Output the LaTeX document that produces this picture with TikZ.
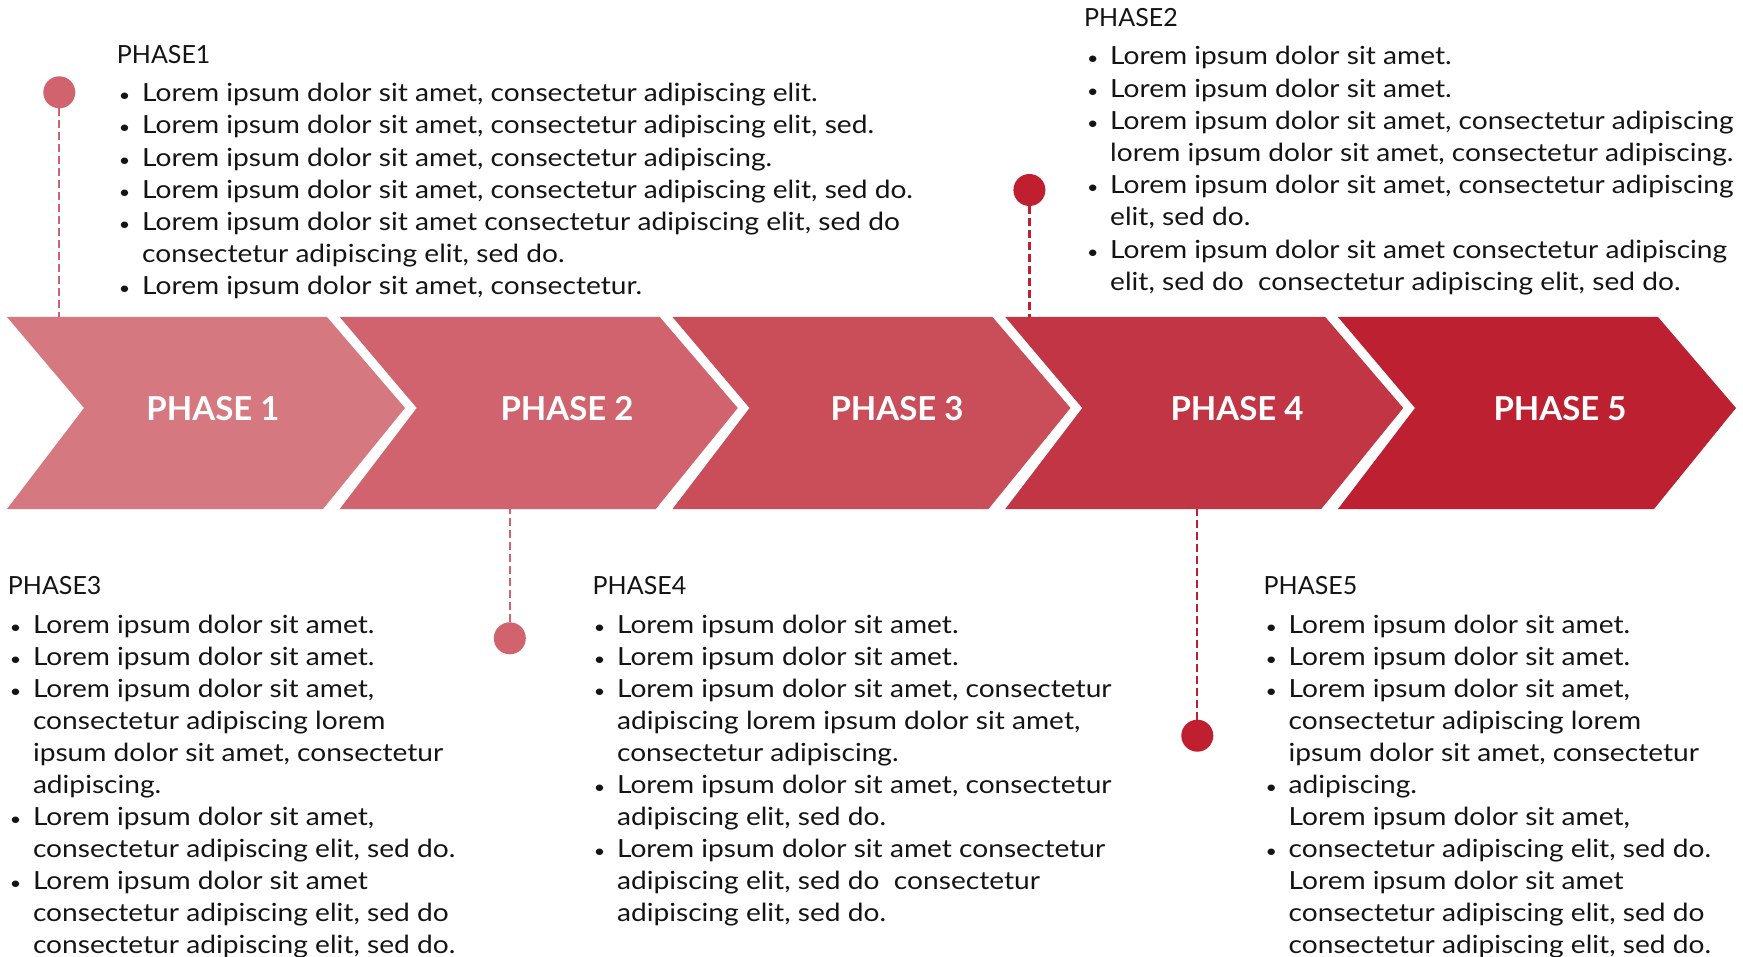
\documentclass[tikz,border=0pt]{standalone}
\usepackage{fontspec}
\setmainfont{Lato}
\newfontfamily\bodyfnt{Lato}[FakeStretch=1.125]
\definecolor{chA}{HTML}{D6787F}
\definecolor{chB}{HTML}{D0636D}
\definecolor{chC}{HTML}{C94E59}
\definecolor{chD}{HTML}{C23544}
\definecolor{chE}{HTML}{BC2031}
\definecolor{dotdark}{HTML}{BF1F2F}
\definecolor{txt}{HTML}{141414}
\newcommand\phbul{\makebox[0pt]{\scalebox{0.7}{•}}\hspace{17.5pt}}
\newcommand\phind{\hspace{17.5pt}}
\renewcommand{\arraystretch}{1}
\tikzset{
  lab/.style={text=white, font=\fontsize{33}{36}\selectfont\bfseries, anchor=base, inner sep=0pt},
  ttl/.style={anchor=base west, inner sep=0pt, font=\fontsize{25}{30}\selectfont, text=txt},
  bodytop/.style={anchor=base west, inner sep=0pt, font=\bodyfnt\fontsize{25}{32.2}\selectfont, text=txt},
  bodybot/.style={anchor=base west, inner sep=0pt, font=\bodyfnt\fontsize{25}{32}\selectfont, text=txt},
  dot/.style={circle, inner sep=0pt, minimum size=32pt},
  lead/.style={dash pattern=on 8pt off 4pt, line width=2.2pt}
}
\begin{document}
\begin{tikzpicture}[x=1pt,y=-1pt]
\useasboundingbox (0,0) rectangle (1743,957);
% chevrons
\foreach \L/\c in {7/chA, 339.75/chB, 672.5/chC, 1005.25/chD, 1338/chE}{
  \fill[\c] (\L,317) -- (\L+320,317) -- (\L+398,408) -- (\L+316,509) -- (\L,509) -- (\L+77,408) -- cycle;
}
\node[lab] (lab1) at (213,420.7) {PHASE 1};
\node[lab] (lab2) at (567,420.7) {PHASE 2};
\node[lab] (lab3) at (897,420.7) {PHASE 3};
\node[lab] (lab4) at (1237,420.7) {PHASE 4};
\node[lab] (lab5) at (1560,420.7) {PHASE 5};
% markers
\node[dot, fill=chB] (d1) at (59.3,92.3) {};
\node[dot, fill=dotdark] (d2) at (1029.4,190) {};
\node[dot, fill=chB] (d3) at (509.8,638.3) {};
\node[dot, fill=dotdark] (d5) at (1197.3,735.7) {};
\coordinate (t1) at (59.3,317);
\coordinate (t2) at (1029.4,317);
\coordinate (t3) at (509.8,509);
\coordinate (t5) at (1197.3,509);
\draw[lead, chB] (d1) -- (t1);
\draw[lead, dotdark] (d2) -- (t2);
\draw[lead, chB] (d3) -- (t3);
\draw[lead, dotdark] (d5) -- (t5);
% titles
\node[ttl] (h1) at (116.7,64) {PHASE1};
\node[ttl] (h2) at (1084,27) {PHASE2};
\node[ttl] (h3) at (7.7,594) {PHASE3};
\node[ttl] (h4) at (592.5,594) {PHASE4};
\node[ttl] (h5) at (1263.5,594) {PHASE5};
% bodies
\node[bodytop] (p1) at (124.5,101.7) {\begin{tabular}[t]{@{}l@{}}
\phbul Lorem ipsum dolor sit amet, consectetur adipiscing elit.\\
\phbul Lorem ipsum dolor sit amet, consectetur adipiscing elit, sed.\\
\phbul Lorem ipsum dolor sit amet, consectetur adipiscing.\\
\phbul Lorem ipsum dolor sit amet, consectetur adipiscing elit, sed do.\\
\phbul Lorem ipsum dolor sit amet consectetur adipiscing elit, sed do\\
\phind consectetur adipiscing elit, sed do.\\
\phbul Lorem ipsum dolor sit amet, consectetur.
\end{tabular}};
\node[bodytop] (p2) at (1092.5,65) {\begin{tabular}[t]{@{}l@{}}
\phbul Lorem ipsum dolor sit amet.\\
\phbul Lorem ipsum dolor sit amet.\\
\phbul Lorem ipsum dolor sit amet, consectetur adipiscing\\
\phind lorem ipsum dolor sit amet, consectetur adipiscing.\\
\phbul Lorem ipsum dolor sit amet, consectetur adipiscing\\
\phind elit, sed do.\\
\phbul Lorem ipsum dolor sit amet consectetur adipiscing\\
\phind elit, sed do\ \ consectetur adipiscing elit, sed do.
\end{tabular}};
\node[bodybot] (p3) at (15.3,633) {\begin{tabular}[t]{@{}l@{}}
\phbul Lorem ipsum dolor sit amet.\\
\phbul Lorem ipsum dolor sit amet.\\
\phbul Lorem ipsum dolor sit amet,\\
\phind consectetur adipiscing lorem\\
\phind ipsum dolor sit amet, consectetur\\
\phind adipiscing.\\
\phbul Lorem ipsum dolor sit amet,\\
\phind consectetur adipiscing elit, sed do.\\
\phbul Lorem ipsum dolor sit amet\\
\phind consectetur adipiscing elit, sed do\\
\phind consectetur adipiscing elit, sed do.
\end{tabular}};
\node[bodybot] (p4) at (599.4,633) {\begin{tabular}[t]{@{}l@{}}
\phbul Lorem ipsum dolor sit amet.\\
\phbul Lorem ipsum dolor sit amet.\\
\phbul Lorem ipsum dolor sit amet, consectetur\\
\phind adipiscing lorem ipsum dolor sit amet,\\
\phind consectetur adipiscing.\\
\phbul Lorem ipsum dolor sit amet, consectetur\\
\phind adipiscing elit, sed do.\\
\phbul Lorem ipsum dolor sit amet consectetur\\
\phind adipiscing elit, sed do\ \ consectetur\\
\phind adipiscing elit, sed do.
\end{tabular}};
\node[bodybot] (p5) at (1271,633) {\begin{tabular}[t]{@{}l@{}}
\phbul Lorem ipsum dolor sit amet.\\
\phbul Lorem ipsum dolor sit amet.\\
\phbul Lorem ipsum dolor sit amet,\\
\phind consectetur adipiscing lorem\\
\phind ipsum dolor sit amet, consectetur\\
\phbul adipiscing.\\
\phind Lorem ipsum dolor sit amet,\\
\phbul consectetur adipiscing elit, sed do.\\
\phind Lorem ipsum dolor sit amet\\
\phind consectetur adipiscing elit, sed do\\
\phind consectetur adipiscing elit, sed do.
\end{tabular}};
\end{tikzpicture}
\end{document}
